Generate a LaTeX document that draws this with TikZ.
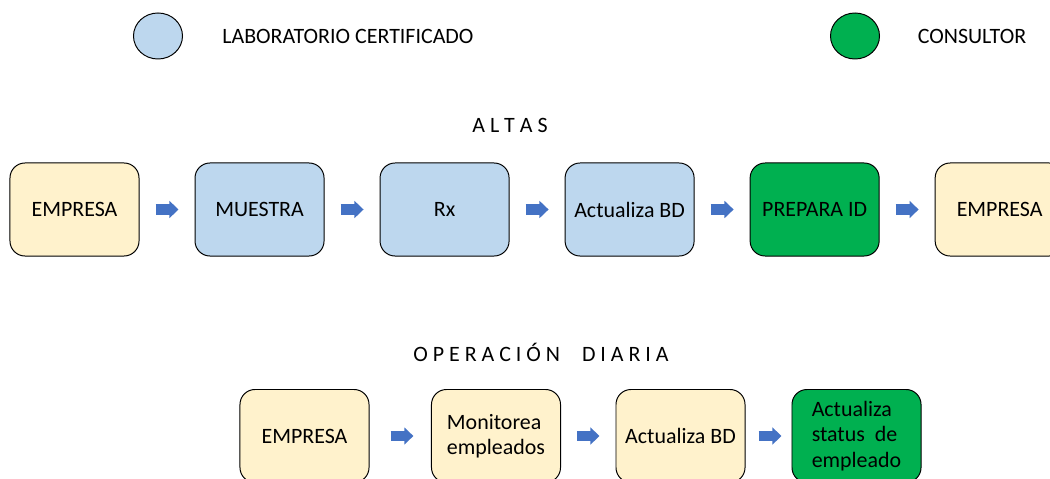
\documentclass[tikz,border=0pt]{standalone}
\usepackage{fontspec}
\setmainfont{Carlito}
\usetikzlibrary{positioning,shapes.geometric,arrows.meta}
\definecolor{empresa}{HTML}{FFF2CC}
\definecolor{lab}{HTML}{BDD7EE}
\definecolor{consultor}{HTML}{00B050}
\definecolor{flecha}{HTML}{4472C4}

\begin{document}
\begin{tikzpicture}[x=0.025cm, y=-0.025cm]
      \tikzstyle{every node}=[font=\fontsize{15.6}{18.1}\selectfont, text=black]
      \tikzstyle{paso}=[rectangle, rounded corners=0.375cm, draw=black, line width=0.7pt, minimum width=3.225cm, minimum height=2.325cm, node distance=1.375cm, align=left]
      \tikzstyle{emp}=[paso, fill=empresa]
      \tikzstyle{lab}=[paso, fill=lab]
      \tikzstyle{cons}=[paso, fill=consultor]
      \tikzstyle{leyenda}=[ellipse, draw=black, line width=0.7pt, minimum width=1.225cm, minimum height=1.15cm, inner sep=0pt]
      \tikzstyle{connect}=[-{Triangle[length=6.5pt,width=12pt]}, line width=7.5pt, draw=flecha, shorten <=0.4cm, shorten >=0.4cm]

      \useasboundingbox (0,0) rectangle (1050,479);
      \clip (0,0) rectangle (1050,479);

      % leyenda
      \node[leyenda, fill=lab] (leglab) at (158,36) {};
      \node (txtlab) [right=0.86cm of leglab] {LABORATORIO CERTIFICADO};
      \node[leyenda, fill=consultor] (legcons) at (855,36) {};
      \node (txtcons) [right=0.82cm of legcons] {CONSULTOR};

      % altas
      \node (altas) at (510,125) {A L T A S};
      \node[emp] (empresa1) at (74.5,209.5) {EMPRESA};
      \node[lab] (muestra) [right=of empresa1] {MUESTRA};
      \node[lab] (rx) [right=of muestra] {Rx};
      \node[lab] (actbd1) [right=of rx] {Actualiza BD};
      \node[cons] (prepara) [right=of actbd1] {PREPARA ID};
      \node[emp] (empresa2) [right=of prepara] {EMPRESA};

      \path (empresa1) edge [connect] (muestra);
      \path (muestra) edge [connect] (rx);
      \path (rx) edge [connect] (actbd1);
      \path (actbd1) edge [connect] (prepara);
      \path (prepara) edge [connect] (empresa2);

      % operacion diaria
      \node (opdiaria) at (541,352) {O P E R A C I Ó N\quad D I A R I A};
      \node[emp] (empresa3) at (304.5,436) {EMPRESA};
      \node[emp] (monitorea) at (496,436) {Monitorea\\empleados};
      \node[emp] (actbd2) at (680.5,436) {Actualiza BD};
      \node[cons] (status) at (856.5,436) {Actualiza\\status\ \ de\\empleado};

      \path (empresa3) edge [connect, shorten <=0.525cm, shorten >=0.44cm] (monitorea);
      \path (monitorea) edge [connect, shorten <=0.41cm, shorten >=0.4cm] (actbd2);
      \path (actbd2) edge [connect, shorten <=0.33cm, shorten >=0.25cm] (status);
    \end{tikzpicture}
\end{document}
